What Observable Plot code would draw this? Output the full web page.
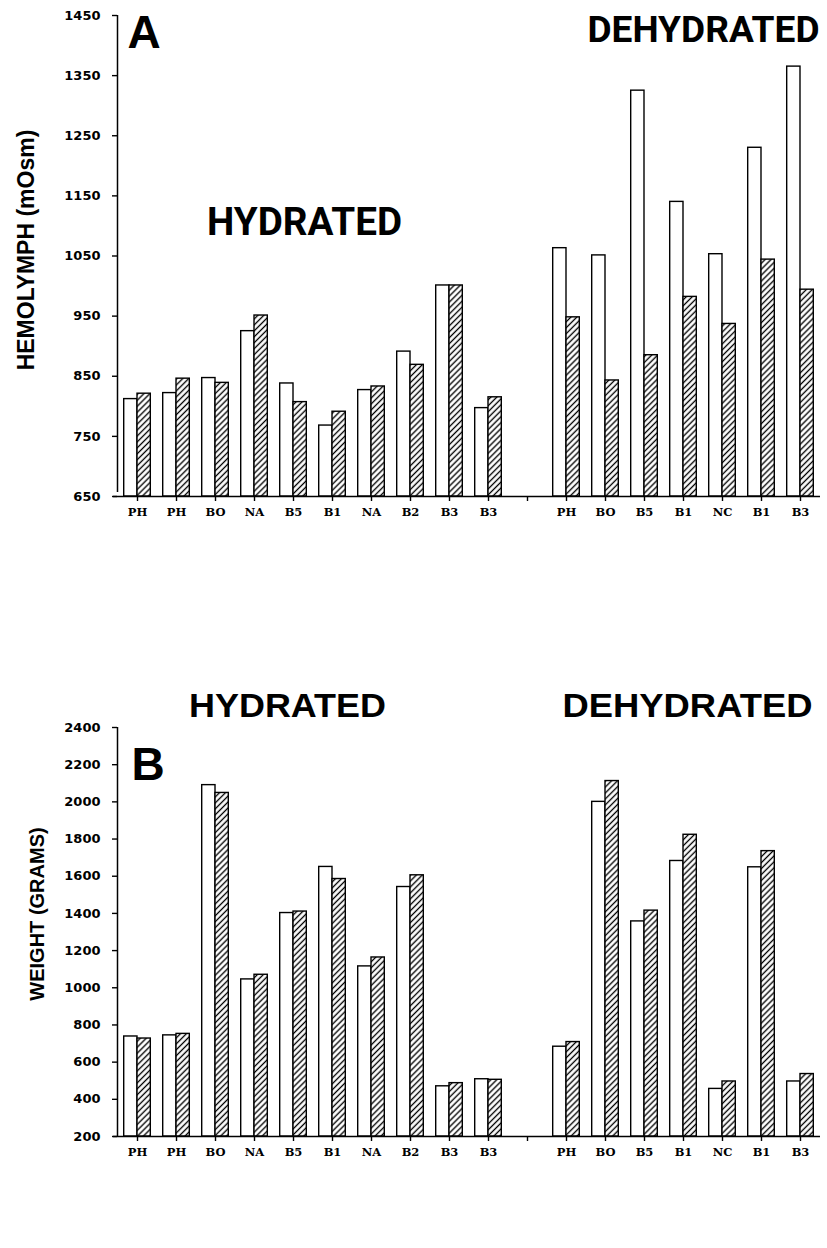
<!DOCTYPE html>
<html><head><meta charset="utf-8">
<script src="https://cdn.jsdelivr.net/npm/d3@7"></script>
<script src="https://cdn.jsdelivr.net/npm/@observablehq/plot@0.6"></script>
<style>
body{margin:0;background:#fff;width:827px;height:1248px;overflow:hidden}
svg{display:block}
</style>
</head><body><div id="chart"></div>
<script>
// ---- data ----
const hydratedLabels = ["PH","PH","BO","NA","B5","B1","NA","B2","B3","B3"];
const dehydratedLabels = ["PH","BO","B5","B1","NC","B1","B3"];
const slotLabels = [...hydratedLabels, "", ...dehydratedLabels];

// Panel A: hemolymph osmolality (mOsm); open bar then hatched bar per animal
const hemoOpenHyd   = [812, 822, 847, 925, 838, 768, 827, 891, 1001, 797];
const hemoHatchHyd  = [821, 846, 839, 951, 807, 791, 833, 869, 1001, 815];
const hemoOpenDehyd = [1063, 1051, 1325, 1140, 1053, 1230, 1365];
const hemoHatchDehyd= [948, 843, 885, 982, 937, 1044, 994];
const hemoTicks = [650, 750, 850, 950, 1050, 1150, 1250, 1350, 1450];

// Panel B: body weight (grams)
const wtOpenHyd   = [738, 744, 2090, 1045, 1402, 1650, 1115, 1542, 470, 508];
const wtHatchHyd  = [727, 752, 2048, 1070, 1410, 1585, 1163, 1605, 487, 505];
const wtOpenDehyd = [683, 2000, 1357, 1682, 456, 1648, 496];
const wtHatchDehyd= [708, 2112, 1415, 1823, 496, 1735, 536];
const wtTicks = [200, 400, 600, 800, 1000, 1200, 1400, 1600, 1800, 2000, 2200, 2400];

const slots = d3.range(slotLabels.length);
function rowsFor(openH, hatchH, openD, hatchD) {
  const open = [...openH, null, ...openD];
  const hatch = [...hatchH, null, ...hatchD];
  return slots.filter(i => open[i] != null).map(i => ({slot: i, label: slotLabels[i], open: open[i], hatch: hatch[i]}));
}

// ---- layout ----
const W = 827, ML = 117, MR = 7, PO = 0.013;
const step = (W - ML - MR) / (slots.length + 2 * PO);
const BAR = 13.3;
const titleFont = "Liberation Sans, Arial, sans-serif";
const tightFont = "Roboto, Liberation Sans, Arial, sans-serif";

function chart(cfg) {
  const rows = rowsFor(...cfg.series);
  const y0 = cfg.ticks[0], yTop = cfg.ticks[cfg.ticks.length - 1];
  const plot = Plot.plot({
    width: W, height: cfg.height,
    marginLeft: ML, marginRight: MR, marginTop: cfg.mt, marginBottom: cfg.mb,
    style: {background: "white", color: "black", overflow: "visible"},
    x: {type: "band", domain: slots, paddingInner: 0, paddingOuter: PO, round: false},
    y: {domain: [y0, yTop]},
    marks: [
      Plot.barY(rows, {x: "slot", y1: y0, y2: "open", fill: "white", stroke: "black", strokeWidth: 1.4,
        insetLeft: step / 2 - BAR, insetRight: step / 2}),
      Plot.barY(rows, {x: "slot", y1: y0, y2: "hatch", fill: `url(#${cfg.id})`, stroke: "black", strokeWidth: 1.4,
        insetLeft: step / 2, insetRight: step / 2 - BAR}),
      Plot.ruleY([y0], {stroke: "black", strokeWidth: 1.6, insetLeft: -4}),
      Plot.ruleX([slots[0]], {x: d => d, y1: y0, y2: yTop, dx: -step * (PO + 0.5), insetTop: cfg.axisTopExt, stroke: "black", strokeWidth: 1.5}),
      Plot.axisY({ticks: cfg.ticks, tickSize: 5, tickPadding: 12, label: null, tickFormat: d => String(d),
        fontFamily: "DejaVu Sans", fontWeight: "bold", fontSize: 13, strokeWidth: 1.4}),
      Plot.axisX({tickSize: 5, tickPadding: 6, label: null, tickFormat: i => slotLabels[i],
        fontFamily: "DejaVu Serif", fontWeight: "bold", fontSize: 11.5, strokeWidth: 1.4}),
      ...cfg.texts.map(t => Plot.text([t.text], {x: [t.slot], y: [t.value], text: d => d, dx: t.dx,
        textAnchor: t.anchor || "middle", fontFamily: t.font || titleFont, fontWeight: "bold", fontSize: t.size, fill: "black"})),
      Plot.text([cfg.yLabel], {frameAnchor: "left", rotate: -90, dx: cfg.labelDx, dy: cfg.labelDy, text: d => d,
        textAnchor: "middle", fontFamily: titleFont, fontWeight: "bold", fontSize: cfg.labelSize, fill: "black"})
    ]
  });
  // fit title widths to the reference lettering (condensed heavy caps)
  const svgSel = d3.select(plot);
  cfg.texts.filter(t => t.len).forEach(t => {
    svgSel.selectAll("text").filter(function() { return this.textContent === t.text; })
      .attr("textLength", t.len).attr("lengthAdjust", "spacingAndGlyphs");
  });
  const ns = "http://www.w3.org/2000/svg";
  const defs = document.createElementNS(ns, "defs");
  defs.innerHTML = `<pattern id="${cfg.id}" patternUnits="userSpaceOnUse" width="4.2" height="4.2" patternTransform="rotate(45)">
    <rect width="4.2" height="4.2" fill="white"/>
    <line x1="2.1" y1="0" x2="2.1" y2="4.2" stroke="black" stroke-width="1.35"/></pattern>`;
  plot.insertBefore(defs, plot.firstChild);
  return plot;
}

const root = document.getElementById("chart");
root.appendChild(chart({
  id: "hatchA", height: 540, mt: 15, mb: 44, axisTopExt: -4,
  series: [hemoOpenHyd, hemoHatchHyd, hemoOpenDehyd, hemoHatchDehyd],
  ticks: hemoTicks,
  yLabel: "HEMOLYMPH (mOsm)", labelSize: 23, labelDx: -91, labelDy: -6,
  texts: [
    {text: "A", slot: 0, value: 1420, dx: -10, anchor: "start", size: 46},
    {text: "HYDRATED", slot: 4, value: 1106, dx: 11, size: 38, len: 195, font: tightFont},
    {text: "DEHYDRATED", slot: 17, value: 1425, dx: 19, anchor: "end", size: 36, len: 232, font: tightFont}
  ]
}));
root.appendChild(chart({
  id: "hatchB", height: 708, mt: 187, mb: 112, axisTopExt: 0,
  series: [wtOpenHyd, wtHatchHyd, wtOpenDehyd, wtHatchDehyd],
  ticks: wtTicks,
  yLabel: "WEIGHT (GRAMS)", labelSize: 20, labelDx: -80, labelDy: -18,
  texts: [
    {text: "B", slot: 0, value: 2196, dx: -6, anchor: "start", size: 46},
    {text: "HYDRATED", slot: 4, value: 2513, dx: -6, size: 33, len: 197},
    {text: "DEHYDRATED", slot: 14, value: 2513, dx: 4, size: 33, len: 250}
  ]
}));
</script>
</body></html>
